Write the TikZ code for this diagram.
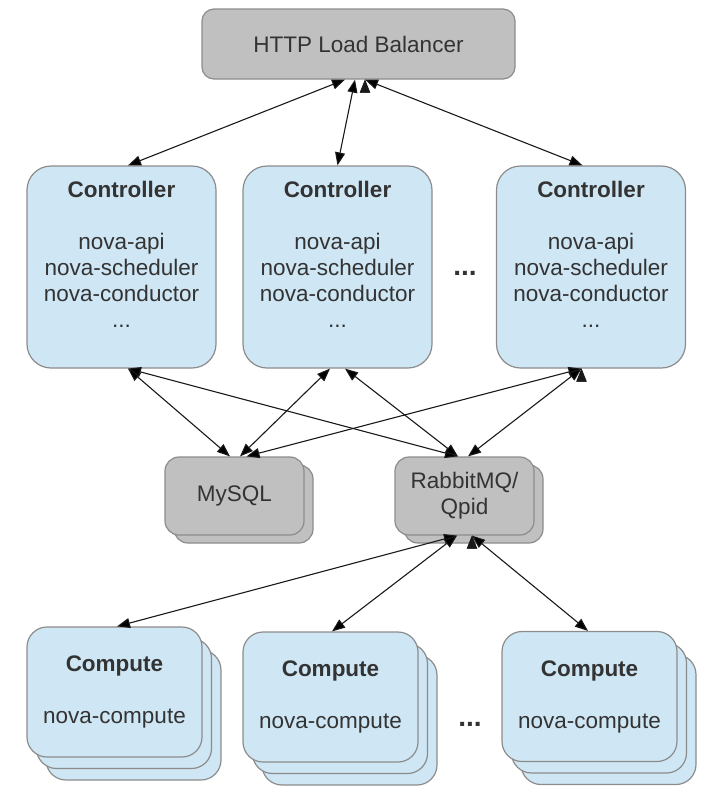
\documentclass[tikz,border=0pt]{standalone}
\usepackage{fontspec}
\setmainfont{Liberation Sans}
\usepackage{xcolor}
\usetikzlibrary{positioning, arrows.meta, shadows}
\definecolor{boxblue}{HTML}{CFE6F4}
\definecolor{boxgrey}{HTML}{C0C0C0}
\definecolor{edgegrey}{HTML}{8C8C8C}
\definecolor{textgrey}{HTML}{333333}

\begin{document}
\begin{tikzpicture}[
    x=1pt, y=1pt,
    on grid,
    >={Triangle[length=13pt, width=10pt]},
    link/.style={<->, line width=1.1pt, draw=black!90},
    boxbase/.style={draw=edgegrey, line width=1.2pt, text=textgrey, align=center, inner sep=0pt, font=\fontsize{22.5}{26}\selectfont},
    balancer/.style={boxbase, fill=boxgrey, minimum width=313pt, minimum height=70pt, rounded corners=12pt},
    controller/.style={boxbase, fill=boxblue, minimum width=189pt, minimum height=202pt, rounded corners=24pt},
    backend/.style={boxbase, fill=boxgrey, minimum width=139pt, minimum height=78pt, rounded corners=14pt,
      copy shadow={shadow xshift=9pt, shadow yshift=-8pt, opacity=1, fill=boxgrey, draw=edgegrey, line width=1.2pt}},
    compute/.style={boxbase, fill=boxblue, minimum width=175pt, minimum height=130pt, rounded corners=20pt,
      copy shadow={shadow xshift=19pt, shadow yshift=-23pt, opacity=1, fill=boxblue, draw=edgegrey, line width=1.2pt},
      copy shadow={shadow xshift=9.5pt, shadow yshift=-11.5pt, opacity=1, fill=boxblue, draw=edgegrey, line width=1.2pt}},
    more/.style={text=textgrey, font=\fontsize{28}{28}\selectfont\bfseries}
]
  \useasboundingbox (0,0) rectangle (722,-793);

  % Balancer and controllers
  \node[balancer] (lb) at (358.5,-44) {HTTP Load Balancer};
  \node[controller] (ctrlA) [below left=223pt and 237pt of lb] {\textbf{Controller}\\[26pt]nova-api\\nova-scheduler\\nova-conductor\\...\\ \mbox{}};
  \node[controller] (ctrlB) [below left=223pt and 21pt of lb] {\textbf{Controller}\\[26pt]nova-api\\nova-scheduler\\nova-conductor\\...\\ \mbox{}};
  \node[controller] (ctrlC) [below right=223pt and 232.5pt of lb] {\textbf{Controller}\\[26pt]nova-api\\nova-scheduler\\nova-conductor\\...\\ \mbox{}};
  \node[more] (dotsA) [below right=6pt and 127.5pt of ctrlB] {...};

  % Database and message queue
  \node[backend] (mysql) [below right=229pt and 113pt of ctrlA] {MySQL};
  \node[backend] (rabbit) [right=230pt of mysql] {RabbitMQ/\\Qpid};

  % Compute nodes
  \node[compute] (compA) [below left=196pt and 350pt of rabbit] {\textbf{Compute}\\[26pt]nova-compute};
  \node[compute] (compB) [below left=201pt and 134pt of rabbit] {\textbf{Compute}\\[26pt]nova-compute};
  \node[compute] (compC) [below right=200.5pt and 125pt of rabbit] {\textbf{Compute}\\[26pt]nova-compute};
  \node[more] (dotsB) [below right=27pt and 139.5pt of compB] {...};

  % Balancer to controllers
  \path[link]
    ([xshift=-13.5pt]lb.south) edge ([xshift=6.5pt]ctrlA.north)
    ([xshift=-3.5pt]lb.south) edge (ctrlB.north)
    ([xshift=6.5pt]lb.south) edge ([xshift=-8.5pt]ctrlC.north);

  % Controllers to MySQL and RabbitMQ
  \path[link]
    ([xshift=6.5pt]ctrlA.south) edge ([xshift=-4.5pt]mysql.north)
                                edge ([xshift=-6.5pt]rabbit.north)
    ([xshift=-7.5pt]ctrlB.south) edge ([xshift=5.5pt]mysql.north)
    ([xshift=7.5pt]ctrlB.south) edge ([xshift=-6.5pt]rabbit.north)
    ([xshift=-9.5pt]ctrlC.south) edge ([xshift=12pt]mysql.north)
                                 edge ([xshift=3.5pt]rabbit.north);

  % RabbitMQ to compute nodes
  \path[link]
    ([xshift=-7.5pt]rabbit.south) edge ([xshift=2.5pt]compA.north)
                                  edge ([xshift=1.5pt]compB.north)
    ([xshift=7.5pt]rabbit.south) edge ([xshift=-1.5pt]compC.north);
\end{tikzpicture}
\end{document}
